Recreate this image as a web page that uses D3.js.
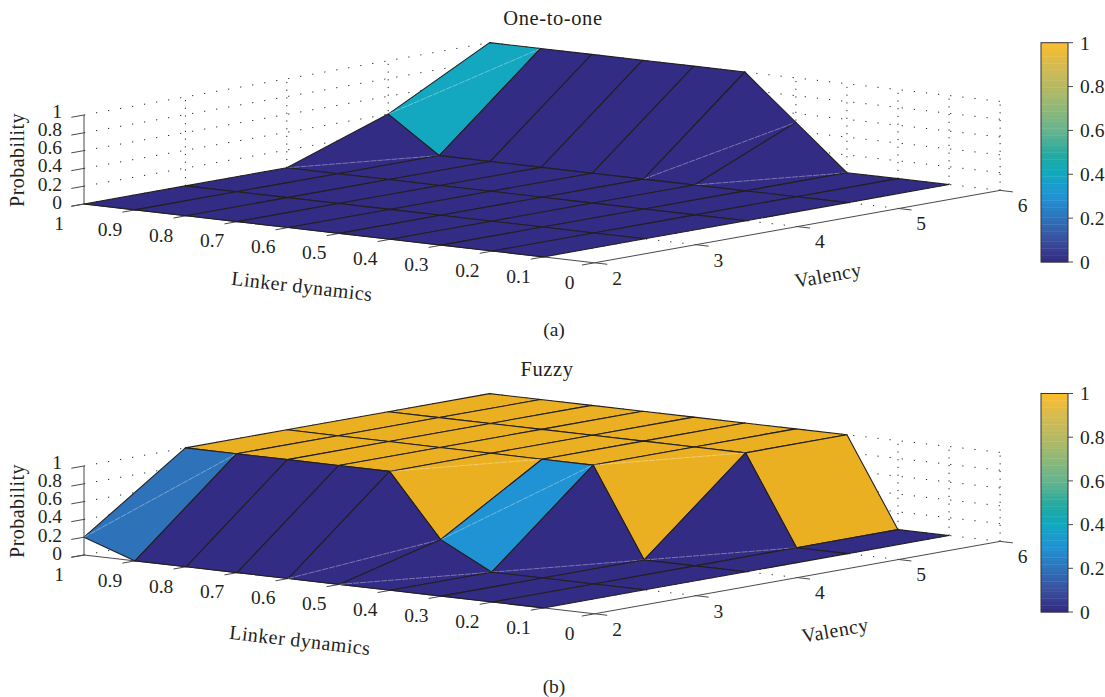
<!DOCTYPE html>
<html><head><meta charset="utf-8">
<script src="https://cdn.jsdelivr.net/npm/d3@7"></script>
<style>html,body{margin:0;background:#fff}svg{display:block}text{font-family:"Liberation Serif",serif;fill:#231f20}</style>
</head><body><div id="c"></div>
<script>
// ---- data ----
const linkerTicks = [1,0.9,0.8,0.7,0.6,0.5,0.4,0.3,0.2,0.1,0];
const linkerMesh  = [1,0.9,0.8,0.7,0.6,0.5,0.4,0.3,0.2,0.1];
const valencyTicks = [2,3,4,5,6];
const probabilityTicks = [0,0.2,0.4,0.6,0.8,1];
const colorbarTicks = [0,0.2,0.4,0.6,0.8,1];
// rows: valency 2..6, columns: linkerMesh
const oneToOne = [
 [0,0,0,0,0,0,0,0,0,0],
 [0,0,0,0,0,0,0,0,0,0],
 [0,0,0,0,0,0,0,0,0,0],
 [0.4,0,0,0,0,0,0,0,0,0],
 [1,1,1,1,1,1,0.5,0,0,0]
];
const fuzzy = [
 [0.2,0,0,0,0,0,0,0,0,0],
 [1,1,1,1,1,0.3,0,0,0,0],
 [1,1,1,1,1,1,1,0,0,0],
 [1,1,1,1,1,1,1,1,0,0],
 [1,1,1,1,1,1,1,1,0,0]
];
const paletteStops  = [0,0.1,0.2,0.3,0.4,0.45,0.5,0.6,0.7,0.8,0.9,1];
const paletteColors = ["#32297f","#3a4f9e","#2e73ba","#2093d4","#13a7c0","#18a9ae","#29aa9e","#66b48e","#8fb878","#b6b963","#d6bb50","#fbbd2a"];
const faceTopColor = "#ebb021";

// ---- layout ----
const W=1105,H=697;
const color=d3.scaleLinear().domain(paletteStops).range(paletteColors).clamp(true);
const faceColor=z=>z>=1?faceTopColor:(z===0?"#332c84":color(z));
const lx=d3.scaleLinear().domain([1,0]).range([0,510.5]);
const ly=d3.scaleLinear().domain([1,0]).range([0,58.8]);
const vx=d3.scaleLinear().domain([2,6]).range([0,405.6]);
const vy=d3.scaleLinear().domain([2,6]).range([0,-72.4]);
const zy=d3.scaleLinear().domain([0,1]).range([0,-89]);
const svg=d3.select("#c").append("svg").attr("width",W).attr("height",H).attr("viewBox",`0 0 ${W} ${H}`);
const line=d3.line();
const AX="#4a4a4a",INK="#231f20";

function panel(cfg){
  const g=svg.append("g");
  const P=(l,v,z=0)=>[cfg.ox+lx(l)+vx(v),cfg.oy+ly(l)+vy(v)+zy(z)];
  const dot=(a,b,dash)=>g.append("path").attr("d",line([a,b])).attr("fill","none").attr("stroke","#222").attr("stroke-width",1).attr("stroke-dasharray",dash);
  const DH="1.2 11",DV="1.2 6.5";
  // back walls + floor
  probabilityTicks.filter(z=>z>0).forEach(z=>{
    dot(P(1,2,z),P(1,6,z),DH); dot(P(1,6,z),P(0,6,z),DH);
  });
  valencyTicks.filter(v=>v>2).forEach(v=>{
    dot(P(1,v,0),P(1,v,1),DV);
    dot(P(1,v,0),P(0,v,0),DH);
  });
  linkerTicks.forEach(l=>{
    dot(P(l,6,0),P(l,6,1),DV);
    if(l>0) dot(P(l,2,0),P(l,6,0),DH);
  });
  // axes
  const axis=(a,b,w=1)=>g.append("path").attr("d",line([a,b])).attr("fill","none").attr("stroke",AX).attr("stroke-width",w);
  axis(P(1,2,0),P(1,2,1)); axis(P(1,2,0),P(0,2,0)); axis(P(0,2,0),P(0,6,0));
  probabilityTicks.forEach(z=>axis(P(1,2,z),P(1,1.875,z)));
  linkerTicks.forEach(l=>axis(P(l,2,0),P(l,1.875,0)));
  valencyTicks.forEach(v=>axis(P(0,v,0),P(-0.025,v,0)));
  // surface, back to front
  const cells=[];
  for(let j=valencyTicks.length-2;j>=0;j--) for(let i=0;i<linkerMesh.length-1;i++) cells.push([i,j]);
  const Z=cfg.z;
  cells.forEach(([i,j])=>{
    const l0=linkerMesh[i],l1=linkerMesh[i+1],v0=valencyTicks[j],v1=valencyTicks[j+1];
    const poly=[P(l0,v0,Z[j][i]),P(l1,v0,Z[j][i+1]),P(l1,v1,Z[j+1][i+1]),P(l0,v1,Z[j+1][i])];
    g.append("path").attr("d",line(poly)+"Z").attr("fill",faceColor(Z[j][i])).attr("stroke",INK).attr("stroke-width",1.1).attr("stroke-linejoin","round");
    if(Math.abs(Z[j][i]+Z[j+1][i+1]-Z[j][i+1]-Z[j+1][i])>1e-6){
      g.append("path").attr("d",line([poly[0],poly[2]])).attr("fill","none").attr("stroke","#fff").attr("stroke-opacity",0.5).attr("stroke-width",0.7).attr("stroke-dasharray","6 1");
    }
  });
  // tick labels
  const FS=19.5;
  probabilityTicks.forEach(z=>g.append("text").attr("x",62).attr("y",cfg.oy-2+zy(z)*91/89).attr("dy","0.35em").attr("text-anchor","end").attr("font-size",FS).text(z));
  linkerTicks.forEach(l=>{const p=P(l,2,0);g.append("text").attr("x",p[0]-25).attr("y",p[1]+19).attr("dy","0.35em").attr("text-anchor","middle").attr("font-size",FS).text(l);});
  valencyTicks.forEach(v=>{const p=P(0,v,0);g.append("text").attr("x",p[0]+22.5).attr("y",p[1]+15).attr("dy","0.35em").attr("text-anchor","middle").attr("font-size",FS).text(v);});
  // axis titles
  const label=(x,y,r,t)=>g.append("text").attr("transform",`translate(${x},${y}) rotate(${r})`).attr("text-anchor","middle").attr("dy","0.35em").attr("font-size",20).attr("letter-spacing",0.45).text(t);
  label(17,cfg.oy-44,-90,"Probability");
  label(cfg.linkerLabel[0],cfg.linkerLabel[1],6.6,"Linker dynamics");
  label(cfg.valencyLabel[0],cfg.valencyLabel[1],-10.2,"Valency");
  g.append("text").attr("x",cfg.title[0]).attr("y",cfg.title[1]).attr("dy","0.35em").attr("text-anchor","middle").attr("font-size",20.5).attr("letter-spacing",0.6).text(cfg.titleText);
  g.append("text").attr("x",cfg.caption[0]).attr("y",cfg.caption[1]).attr("dy","0.35em").attr("text-anchor","middle").attr("font-size",19.5).text(cfg.captionText);
  // colorbar
  const cy=d3.scaleLinear().domain([0,1]).range(cfg.cb);
  const cbX=1041,cbW=27;
  d3.range(64).forEach(k=>{
    g.append("rect").attr("x",cbX).attr("width",cbW).attr("y",cy((k+1)/64)).attr("height",cy(k/64)-cy((k+1)/64)+0.4).attr("fill",color((k+0.5)/64));
  });
  g.append("rect").attr("x",cbX).attr("y",cfg.cb[1]).attr("width",cbW).attr("height",cfg.cb[0]-cfg.cb[1]).attr("fill","none").attr("stroke","#333").attr("stroke-width",1);
  colorbarTicks.forEach(t=>{
    axis([cbX+cbW,cy(t)],[cbX+cbW+5,cy(t)]);
    g.append("text").attr("x",1080).attr("y",cy(t)).attr("dy","0.35em").attr("font-size",FS).text(t);
  });
}
panel({ox:84,oy:204,z:oneToOne,linkerLabel:[302,286],valencyLabel:[828,275],title:[553,18],titleText:"One-to-one",caption:[554,329],captionText:"(a)",cb:[262,42.7]});
panel({ox:84,oy:555,z:fuzzy,linkerLabel:[300,640],valencyLabel:[835,630],title:[547,369],titleText:"Fuzzy",caption:[554,686],captionText:"(b)",cb:[612,393.5]});
</script></body></html>
